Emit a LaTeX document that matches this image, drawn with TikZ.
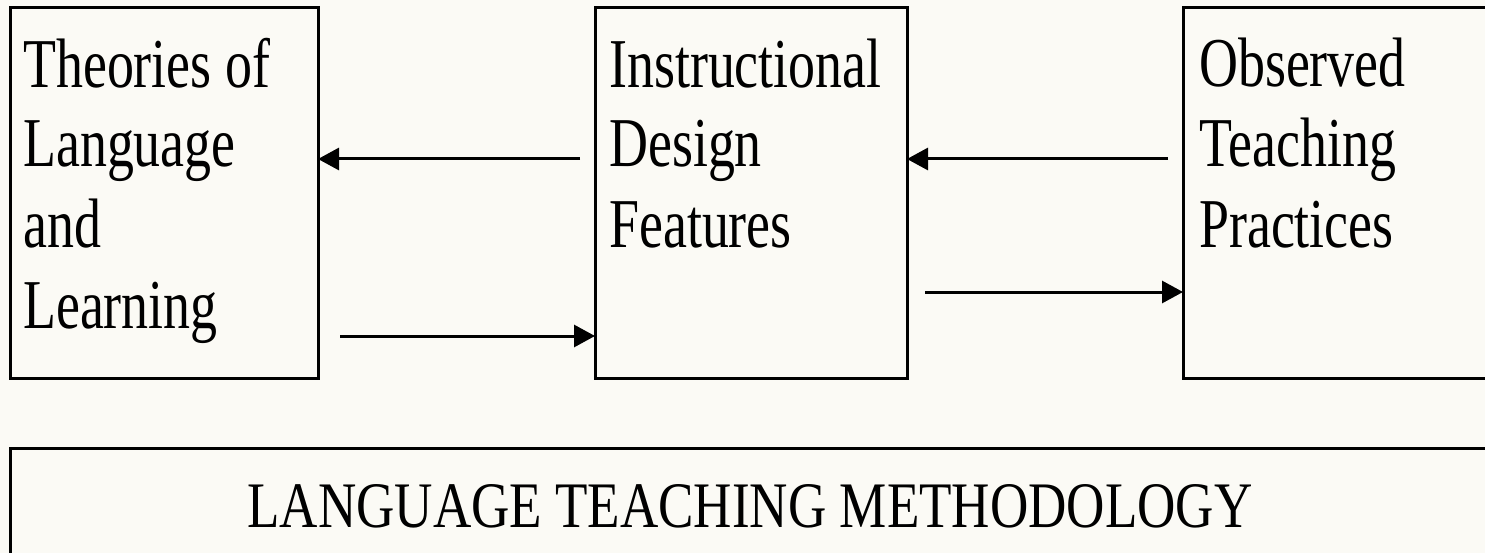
\documentclass[tikz,border=0pt]{standalone}
\usepackage{fontspec}
\setmainfont{Liberation Serif}
\usetikzlibrary{arrows.meta}
\definecolor{bg}{RGB}{251,250,245}
\newcommand{\sqz}[1]{\scalebox{0.77}[1]{#1}}
\begin{document}
\begin{tikzpicture}[x=1pt,y=-1pt,
  box/.style={draw=black,line width=3pt,anchor=north west,inner sep=0pt,outer sep=0pt},
  lbl/.style={anchor=base west,inner sep=0pt,font=\fontsize{70}{80}\selectfont},
  arr/.style={line width=3pt,-{Triangle[length=21pt,width=22pt]}}]
\useasboundingbox (0,0) rectangle (1485,553);
\clip (0,0) rectangle (1485,553);
\fill[bg] (0,0) rectangle (1485,553);
% boxes
\node[box,minimum width=308pt,minimum height=370pt] (b1) at (10,8) {};
\node[box,minimum width=312pt,minimum height=370pt] (b2) at (595,8) {};
\node[box,minimum width=320pt,minimum height=370pt] (b3) at (1183,8) {};
\node[box,minimum width=1490pt,minimum height=130pt] (b4) at (10,448) {};
% texts box 1
\node[lbl] (t1a) at (23,88) {\sqz{Theories of}};
\node[lbl] (t1b) at (23,167) {\sqz{Language}};
\node[lbl] (t1c) at (23,248) {\sqz{and}};
\node[lbl] (t1d) at (23,328) {\sqz{Learning}};
% texts box 2
\node[lbl] (t2a) at (609,88) {\sqz{Instructional}};
\node[lbl] (t2b) at (609,167) {\sqz{Design}};
\node[lbl] (t2c) at (609,248) {\sqz{Features}};
% texts box 3
\node[lbl] (t3a) at (1199,87) {\sqz{Observed}};
\node[lbl] (t3b) at (1199,167) {\sqz{Teaching}};
\node[lbl] (t3c) at (1199,248) {\sqz{Practices}};
% bottom
\node[anchor=base,inner sep=0pt] (t4) at (750,527)
  {\resizebox{1005pt}{43pt}{LANGUAGE TEACHING METHODOLOGY}};
% arrows
\coordinate (s1) at (580,159);
\coordinate (s2) at (340,336);
\coordinate (s3) at (1168,159);
\coordinate (s4) at (925,292);
\draw[arr] (s1) -- (s1 -| b1.east);
\draw[arr] (s2) -- (s2 -| b2.west);
\draw[arr] (s3) -- (s3 -| b2.east);
\draw[arr] (s4) -- (s4 -| b3.west);
\end{tikzpicture}
\end{document}
